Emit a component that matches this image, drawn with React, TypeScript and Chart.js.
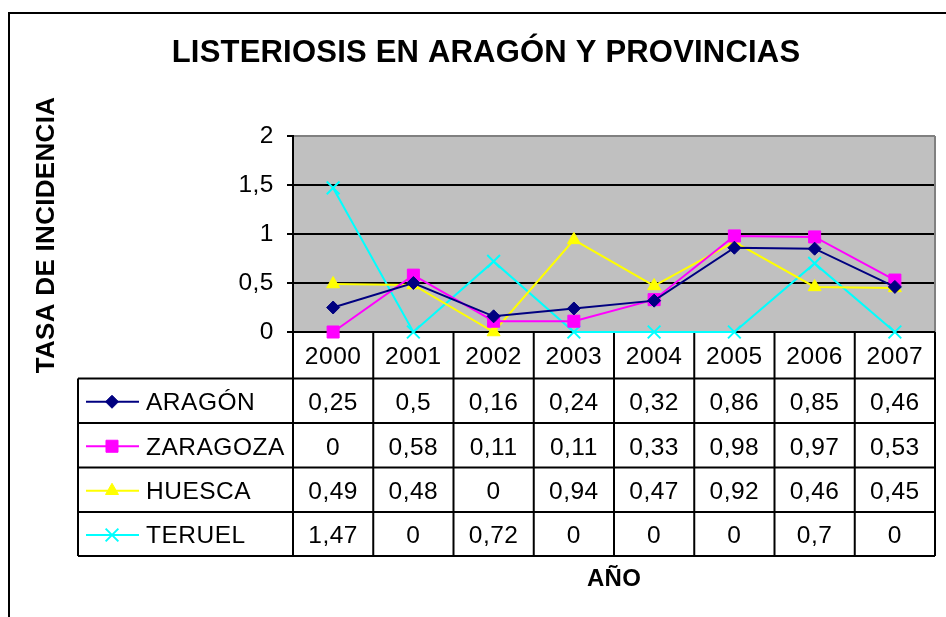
import React, { useEffect, useRef } from 'react';
import { Chart, registerables } from 'chart.js';
import { drawPoint } from 'chart.js/helpers';

Chart.register(...registerables);

const YEARS = ['2000', '2001', '2002', '2003', '2004', '2005', '2006', '2007'];
const SERIES_NAMES = ['ARAGÓN', 'ZARAGOZA', 'HUESCA', 'TERUEL'];
const ARAGON = [0.25, 0.5, 0.16, 0.24, 0.32, 0.86, 0.85, 0.46];
const ZARAGOZA = [0, 0.58, 0.11, 0.11, 0.33, 0.98, 0.97, 0.53];
const HUESCA = [0.49, 0.48, 0, 0.94, 0.47, 0.92, 0.46, 0.45];
const TERUEL = [1.47, 0, 0.72, 0, 0, 0, 0.7, 0];
const Y_MIN = 0;
const Y_MAX = 2;
const Y_STEP = 0.5;
const TITLE = 'LISTERIOSIS EN ARAGÓN Y PROVINCIAS';
const Y_TITLE = 'TASA DE INCIDENCIA';
const X_TITLE = 'AÑO';

const SERIES_VALUES = [ARAGON, ZARAGOZA, HUESCA, TERUEL];
const COLORS = ['#000080', '#FF00FF', '#FFFF00', '#00FFFF'];
const STYLES = ['rectRot', 'rect', 'triangle', 'crossRot'];
const RADII = [6.5, 8.5, 7.5, 9];

const FONT = '"Liberation Sans", Arial, sans-serif';
const TEXT_SIZE = 24.5;
const TEXT_SPACING = '0.5px';
const W = 946;
const H = 617;

const fmt = (v: number) => String(v).replace('.', ',');

const excelPlugin = {
  id: 'excelLook',
  beforeDraw(chart: any) {
    const { ctx, chartArea: a } = chart;
    ctx.save();
    ctx.fillStyle = '#ffffff';
    ctx.fillRect(0, 0, chart.width, chart.height);
    ctx.fillStyle = '#C0C0C0';
    ctx.fillRect(a.left, a.top, a.right - a.left, a.bottom - a.top);
    // outer frame
    ctx.strokeStyle = '#000';
    ctx.lineWidth = 2;
    ctx.beginPath();
    ctx.moveTo(9, chart.height + 5);
    ctx.lineTo(9, 13);
    ctx.lineTo(chart.width + 5, 13);
    ctx.stroke();
    ctx.restore();
    // wider glyph spacing for the axis tick labels (drawn by Chart.js)
    ctx.letterSpacing = TEXT_SPACING;
  },
  beforeDatasetsDraw(chart: any) {
    const { ctx, chartArea: a } = chart;
    const xs = chart.scales.x;
    const n = YEARS.length;
    const colW = (a.right - a.left) / n;
    const rowH = [46.5, 44.5, 44.5, 44.5, 44];
    const rowTops: number[] = [a.bottom];
    rowH.forEach((h, i) => rowTops.push(rowTops[i] + h));
    const legLeft = 78;
    const bottom = rowTops[rowTops.length - 1];

    ctx.save();
    // gray right border of the plot area
    ctx.strokeStyle = '#808080';
    ctx.lineWidth = 2;
    ctx.beginPath();
    ctx.moveTo(a.right, a.top);
    ctx.lineTo(a.right, a.bottom);
    ctx.stroke();

    // table grid
    ctx.strokeStyle = '#000';
    ctx.lineWidth = 2;
    ctx.beginPath();
    ctx.moveTo(a.left, rowTops[0]);
    ctx.lineTo(a.right, rowTops[0]);
    for (let r = 1; r < rowTops.length; r++) {
      ctx.moveTo(legLeft, rowTops[r]);
      ctx.lineTo(a.right, rowTops[r]);
    }
    ctx.moveTo(legLeft, rowTops[1]);
    ctx.lineTo(legLeft, bottom);
    for (let c = 0; c <= n; c++) {
      const x = a.left + c * colW;
      ctx.moveTo(x, rowTops[0]);
      ctx.lineTo(x, bottom);
    }
    ctx.stroke();

    // table texts
    ctx.fillStyle = '#000';
    ctx.font = `${TEXT_SIZE}px ${FONT}`;
    ctx.letterSpacing = TEXT_SPACING;
    ctx.textAlign = 'center';
    ctx.textBaseline = 'middle';
    YEARS.forEach((yr, i) => {
      const cx = xs.getPixelForValue(i);
      ctx.fillText(yr, cx, (rowTops[0] + rowTops[1]) / 2 + 1.5);
    });
    SERIES_VALUES.forEach((vals, s) => {
      const cy = (rowTops[s + 1] + rowTops[s + 2]) / 2 + 2.5;
      vals.forEach((v, i) => {
        const cx = xs.getPixelForValue(i);
        ctx.fillText(fmt(v), cx, cy);
      });
    });

    // legend keys
    SERIES_NAMES.forEach((name, s) => {
      const cy = (rowTops[s + 1] + rowTops[s + 2]) / 2 + 1;
      ctx.strokeStyle = COLORS[s];
      ctx.lineWidth = 2;
      ctx.beginPath();
      ctx.moveTo(86, cy);
      ctx.lineTo(139, cy);
      ctx.stroke();
      ctx.fillStyle = COLORS[s];
      ctx.strokeStyle = COLORS[s];
      ctx.lineWidth = STYLES[s] === 'crossRot' ? 2 : 1;
      drawPoint(ctx, { pointStyle: STYLES[s], radius: RADII[s], rotation: 0, borderWidth: ctx.lineWidth } as any, 112, cy);
      ctx.fillStyle = '#000';
      ctx.textAlign = 'left';
      ctx.fillText(name, 146, cy + 1.5);
    });

    // titles
    ctx.fillStyle = '#000';
    ctx.textAlign = 'center';
    ctx.textBaseline = 'middle';
    ctx.font = `bold 31px ${FONT}`;
    ctx.letterSpacing = '0.2px';
    ctx.fillText(TITLE, 486, 53);
    ctx.font = `bold 24px ${FONT}`;
    ctx.letterSpacing = '0.3px';
    ctx.fillText(X_TITLE, 614, 579);
    ctx.save();
    ctx.translate(47, 235);
    ctx.rotate(-Math.PI / 2);
    ctx.font = `bold 26px ${FONT}`;
    ctx.letterSpacing = '0.3px';
    ctx.fillText(Y_TITLE, 0, 0);
    ctx.restore();

    ctx.restore();
  },
};

export default function App() {
  const ref = useRef<HTMLCanvasElement | null>(null);
  useEffect(() => {
    if (!ref.current) return;
    const chart = new Chart(ref.current, {
      type: 'line',
      data: {
        labels: YEARS,
        datasets: SERIES_NAMES.map((name, s) => ({
          label: name,
          data: SERIES_VALUES[s],
          borderColor: COLORS[s],
          backgroundColor: COLORS[s],
          pointBackgroundColor: COLORS[s],
          pointBorderColor: COLORS[s],
          pointStyle: STYLES[s] as any,
          pointRadius: RADII[s],
          pointHoverRadius: RADII[s],
          pointBorderWidth: STYLES[s] === 'crossRot' ? 2 : 1,
          borderWidth: 2,
          tension: 0,
          fill: false,
          clip: false as any,
        })),
      },
      options: {
        responsive: false,
        animation: false,
        devicePixelRatio: 1,
        layout: { padding: { top: 136, right: 5, bottom: 285, left: 0 } },
        plugins: {
          legend: { display: false },
          title: { display: false },
          tooltip: { enabled: false },
        },
        scales: {
          x: {
            type: 'category',
            display: false,
            offset: true,
          },
          y: {
            min: Y_MIN,
            max: Y_MAX,
            ticks: {
              stepSize: Y_STEP,
              color: '#000',
              padding: 13,
              font: { family: FONT, size: TEXT_SIZE },
              callback: (v: any) => fmt(Number(v)),
            },
            grid: {
              color: (c: any) => (c.tick && c.tick.value === Y_MAX ? '#808080' : '#000'),
              tickColor: '#000',
              lineWidth: 2,
              tickLength: 6,
            },
            border: { color: '#000', width: 2 },
            afterFit: (s: any) => {
              s.width = 293;
            },
          },
        },
      },
      plugins: [excelPlugin],
    });
    return () => chart.destroy();
  }, []);
  return (
    <div style={{ position: 'fixed', left: 0, top: 0, width: W, height: H, background: '#fff' }}>
      <canvas ref={ref} width={W} height={H} style={{ display: 'block', width: W, height: H }} />
    </div>
  );
}
